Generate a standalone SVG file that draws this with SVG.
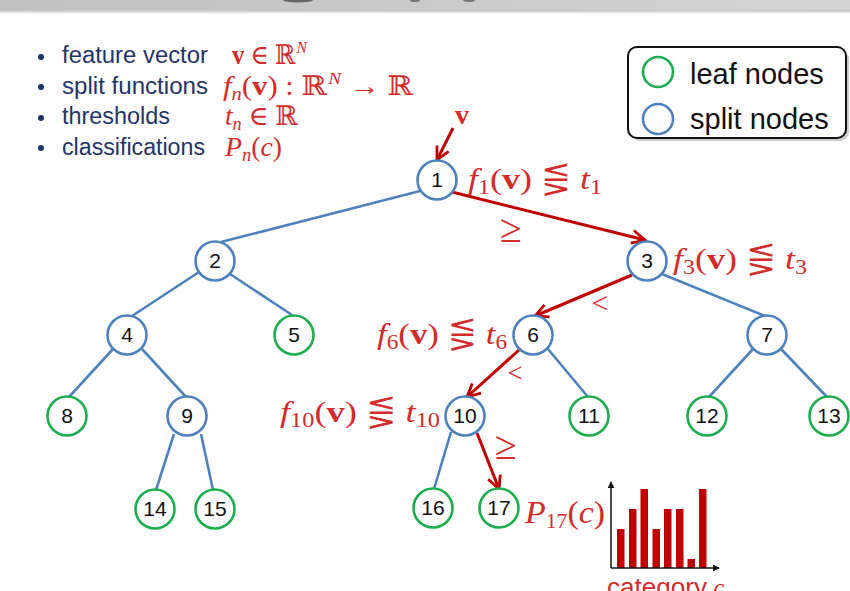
<svg xmlns="http://www.w3.org/2000/svg" width="850" height="591" viewBox="0 0 850 591">
<style>
.bul{font-family:"Liberation Sans",Arial,sans-serif;font-size:23px;fill:#1f3468}
.m{font-family:"Liberation Serif","DejaVu Serif",serif;fill:#d42b2b}
.it{font-style:italic}
.bf{font-weight:bold}
.ds{font-family:"DejaVu Serif","DejaVu Sans",serif}
.edge{stroke:#4f81bd;stroke-width:2.6;fill:none}
.red{stroke:#c00000;stroke-width:3;fill:none;marker-end:url(#ah)}
.split{fill:#fff;stroke:#4f81bd;stroke-width:2.6}
.leaf{fill:#fff;stroke:#1fae4f;stroke-width:2.6}
.lbl{font-family:"Liberation Sans",Arial,sans-serif;font-size:21px;fill:#111;text-anchor:middle}
.leg{font-family:"Liberation Sans",Arial,sans-serif;font-size:29px;fill:#111}
.bar{fill:#c00000}
</style>
<defs>
<marker id="ah" viewBox="0 0 16 16" refX="14" refY="8" markerWidth="16" markerHeight="16" markerUnits="userSpaceOnUse" orient="auto">
<path d="M1,1.5 L14,8 L1,14.5" stroke="#c00000" stroke-width="2.8" fill="none"/>
</marker>
<marker id="ax" viewBox="0 0 8 8" refX="7" refY="4" markerWidth="7" markerHeight="7" markerUnits="userSpaceOnUse" orient="auto">
<path d="M0,0 L8,4 L0,8 Z" fill="#111"/>
</marker>
<linearGradient id="band" x1="0" y1="0" x2="1" y2="0">
<stop offset="0" stop-color="#c0c0c0"/>
<stop offset="1" stop-color="#d4d4d4"/>
</linearGradient>
<linearGradient id="shade" x1="0" y1="0" x2="0" y2="1">
<stop offset="0" stop-color="#bdbdbd"/>
<stop offset="1" stop-color="#ffffff"/>
</linearGradient>
</defs>
<rect width="850" height="591" fill="#fff"/>
<!-- top band -->
<rect x="0" y="0" width="850" height="10" fill="url(#band)"/>
<rect x="0" y="10" width="850" height="4" fill="url(#shade)"/>
<ellipse cx="298" cy="0" rx="15" ry="2.5" fill="#666"/>
<ellipse cx="415" cy="0" rx="5" ry="2" fill="#777"/>
<ellipse cx="469" cy="0" rx="6" ry="2" fill="#777"/>

<!-- bullet list -->
<g id="bullets">
<circle cx="41" cy="57" r="3" fill="#1f3468"/>
<circle cx="41" cy="87" r="3" fill="#1f3468"/>
<circle cx="41" cy="118" r="3" fill="#1f3468"/>
<circle cx="41" cy="148" r="3" fill="#1f3468"/>
<text class="bul" x="62" y="63" textLength="146" lengthAdjust="spacingAndGlyphs">feature vector</text>
<text class="bul" x="62" y="94" textLength="146" lengthAdjust="spacingAndGlyphs">split functions</text>
<text class="bul" x="62" y="124" textLength="108" lengthAdjust="spacingAndGlyphs">thresholds</text>
<text class="bul" x="62" y="155" textLength="143" lengthAdjust="spacingAndGlyphs">classifications</text>
<text class="m" x="232" y="64" font-size="27" textLength="75" lengthAdjust="spacingAndGlyphs"><tspan class="bf">v</tspan> ∈ <tspan class="ds">ℝ</tspan><tspan font-size="17" dx="1" dy="-11" class="it">N</tspan></text>
<text class="m" x="223" y="95" font-size="27" textLength="190" lengthAdjust="spacingAndGlyphs"><tspan class="it">f</tspan><tspan font-size="18" dy="5" class="it">n</tspan><tspan dy="-5">(</tspan><tspan class="bf">v</tspan>) : <tspan class="ds">ℝ</tspan><tspan font-size="17" dx="1" dy="-11" class="it">N</tspan><tspan dy="11"> → </tspan><tspan class="ds">ℝ</tspan></text>
<text class="m" x="225" y="125" font-size="27" textLength="73" lengthAdjust="spacingAndGlyphs"><tspan class="it">t</tspan><tspan font-size="18" dy="5" class="it">n</tspan><tspan dy="-5"> ∈ </tspan><tspan class="ds">ℝ</tspan></text>
<text class="m" x="225" y="156" font-size="27" textLength="57" lengthAdjust="spacingAndGlyphs"><tspan class="it">P</tspan><tspan font-size="18" dy="5" class="it">n</tspan><tspan dy="-5">(</tspan><tspan class="it">c</tspan>)</text>
</g>

<!-- legend -->
<g id="legend">
<rect x="631" y="50" width="218" height="91" rx="9" fill="#999" opacity="0.5"/>
<rect x="628" y="47" width="218" height="91" rx="9" fill="#fff" stroke="#111" stroke-width="2"/>
<circle cx="658" cy="72" r="15" class="leaf"/>
<circle cx="658" cy="119" r="15" class="split"/>
<text class="leg" x="690" y="84">leaf nodes</text>
<text class="leg" x="690" y="129">split nodes</text>
</g>

<!-- connectors -->
<g id="connectors">
<line class="edge" x1="420" y1="191" x2="221" y2="242"/>
<line class="edge" x1="199" y1="272" x2="132" y2="316"/>
<line class="edge" x1="230" y1="274" x2="292" y2="315"/>
<line class="edge" x1="662" y1="274" x2="765" y2="316"/>
<line class="edge" x1="113" y1="349" x2="69" y2="397"/>
<line class="edge" x1="142" y1="349" x2="186" y2="397"/>
<line class="edge" x1="548" y1="349" x2="588" y2="397"/>
<line class="edge" x1="753" y1="349" x2="709" y2="397"/>
<line class="edge" x1="781" y1="349" x2="827" y2="397"/>
<line class="edge" x1="174" y1="434" x2="156" y2="490"/>
<line class="edge" x1="201" y1="434" x2="213" y2="490"/>
<line class="edge" x1="451" y1="432" x2="434" y2="489"/>
<line class="red" x1="452" y1="192" x2="645" y2="240"/>
<line class="red" x1="632" y1="275" x2="535" y2="316"/>
<line class="red" x1="519" y1="350" x2="467" y2="397"/>
<line class="red" x1="477" y1="433" x2="499" y2="489"/>
<line class="red" x1="453" y1="128" x2="437" y2="160"/>
</g>

<!-- nodes -->
<g id="n1"><circle cx="437" cy="180" r="19.5" class="split"/><text class="lbl" x="437" y="187">1</text></g>
<g id="n2"><circle cx="215" cy="261" r="19.5" class="split"/><text class="lbl" x="215" y="268">2</text></g>
<g id="n3"><circle cx="647" cy="261" r="19.5" class="split"/><text class="lbl" x="647" y="268">3</text></g>
<g id="n4"><circle cx="127" cy="335" r="19.5" class="split"/><text class="lbl" x="127" y="342">4</text></g>
<g id="n5"><circle cx="294" cy="335" r="19.5" class="leaf"/><text class="lbl" x="294" y="342">5</text></g>
<g id="n6"><circle cx="533" cy="335" r="19.5" class="split"/><text class="lbl" x="533" y="342">6</text></g>
<g id="n7"><circle cx="767" cy="335" r="19.5" class="split"/><text class="lbl" x="767" y="342">7</text></g>
<g id="n8"><circle cx="67" cy="416" r="19.5" class="leaf"/><text class="lbl" x="67" y="423">8</text></g>
<g id="n9"><circle cx="187" cy="416" r="19.5" class="split"/><text class="lbl" x="187" y="423">9</text></g>
<g id="n10"><circle cx="465" cy="416" r="19.5" class="split"/><text class="lbl" x="465" y="423">10</text></g>
<g id="n11"><circle cx="589" cy="416" r="19.5" class="leaf"/><text class="lbl" x="589" y="423">11</text></g>
<g id="n12"><circle cx="707" cy="416" r="19.5" class="leaf"/><text class="lbl" x="707" y="423">12</text></g>
<g id="n13"><circle cx="829" cy="416" r="19.5" class="leaf"/><text class="lbl" x="829" y="423">13</text></g>
<g id="n14"><circle cx="155" cy="509" r="19.5" class="leaf"/><text class="lbl" x="155" y="516">14</text></g>
<g id="n15"><circle cx="215" cy="509" r="19.5" class="leaf"/><text class="lbl" x="215" y="516">15</text></g>
<g id="n16"><circle cx="433" cy="508" r="19.5" class="leaf"/><text class="lbl" x="433" y="515">16</text></g>
<g id="n17"><circle cx="499" cy="508" r="19.5" class="leaf"/><text class="lbl" x="499" y="515">17</text></g>

<!-- red labels -->
<g id="labels">
<text class="m" x="455" y="124" font-size="28" font-weight="bold">v</text>
<text class="m" x="468" y="189" font-size="30" textLength="134" lengthAdjust="spacingAndGlyphs"><tspan class="it">f</tspan><tspan font-size="20" dy="5">1</tspan><tspan dy="-5">(</tspan><tspan class="bf">v</tspan>) <tspan class="ds">⋚</tspan> <tspan class="it">t</tspan><tspan font-size="20" dy="5">1</tspan></text>
<text class="m" x="673" y="269" font-size="30" textLength="134" lengthAdjust="spacingAndGlyphs"><tspan class="it">f</tspan><tspan font-size="20" dy="5">3</tspan><tspan dy="-5">(</tspan><tspan class="bf">v</tspan>) <tspan class="ds">⋚</tspan> <tspan class="it">t</tspan><tspan font-size="20" dy="5">3</tspan></text>
<text class="m" x="377" y="344" font-size="30" textLength="130" lengthAdjust="spacingAndGlyphs"><tspan class="it">f</tspan><tspan font-size="20" dy="5">6</tspan><tspan dy="-5">(</tspan><tspan class="bf">v</tspan>) <tspan class="ds">⋚</tspan> <tspan class="it">t</tspan><tspan font-size="20" dy="5">6</tspan></text>
<text class="m" x="280" y="422" font-size="30" textLength="160" lengthAdjust="spacingAndGlyphs"><tspan class="it">f</tspan><tspan font-size="20" dy="5">10</tspan><tspan dy="-5">(</tspan><tspan class="bf">v</tspan>) <tspan class="ds">⋚</tspan> <tspan class="it">t</tspan><tspan font-size="20" dy="5">10</tspan></text>
<text class="m" x="525" y="523" font-size="31" textLength="80" lengthAdjust="spacingAndGlyphs"><tspan class="it">P</tspan><tspan font-size="20" dy="5">17</tspan><tspan dy="-5">(</tspan><tspan class="it">c</tspan>)</text>
<text class="m" x="511" y="242" font-size="40" text-anchor="middle">≥</text>
<text class="m" x="600" y="313" font-size="30" text-anchor="middle">&lt;</text>
<text class="m" x="515" y="382" font-size="27" text-anchor="middle">&lt;</text>
<text class="m" x="506" y="459" font-size="40" text-anchor="middle">≥</text>
</g>

<!-- histogram -->
<g id="histogram">
<rect class="bar" x="617" y="529" width="7.5" height="39"/>
<rect class="bar" x="629" y="509" width="7.5" height="59"/>
<rect class="bar" x="640.5" y="489" width="7.5" height="79"/>
<rect class="bar" x="652.5" y="529" width="7.5" height="39"/>
<rect class="bar" x="664" y="509" width="7.5" height="59"/>
<rect class="bar" x="676" y="509" width="7.5" height="59"/>
<rect class="bar" x="687.5" y="559" width="7.5" height="9"/>
<rect class="bar" x="699" y="489" width="7.5" height="79"/>
<line x1="611" y1="568" x2="611" y2="482" stroke="#111" stroke-width="1.5" marker-end="url(#ax)"/>
<line x1="611" y1="568" x2="719" y2="568" stroke="#111" stroke-width="1.5" marker-end="url(#ax)"/>
<text x="607" y="596" font-family="Liberation Sans,Arial,sans-serif" font-size="25" fill="#d42b2b"><tspan textLength="100" lengthAdjust="spacingAndGlyphs">category</tspan><tspan font-family="Liberation Serif,serif" font-style="italic"> c</tspan></text>
</g>
</svg>
